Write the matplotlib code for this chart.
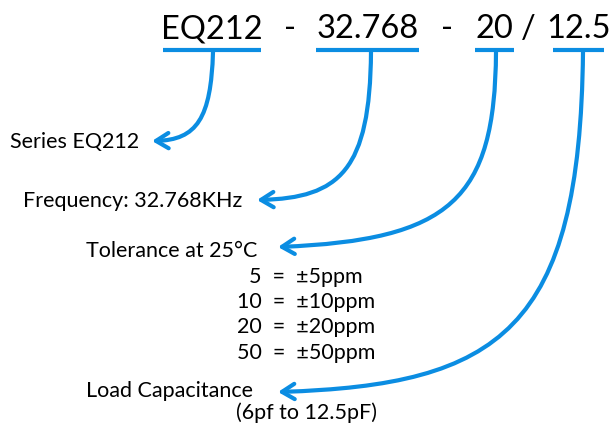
import matplotlib.pyplot as plt
from matplotlib.path import Path
from matplotlib.patches import FancyArrowPatch

plt.rcParams['font.family'] = ['Lato', 'DejaVu Sans']

BLUE = '#0b8de2'

# part number pieces: (text, center x)
code_parts = ['EQ212', '32.768', '20', '12.5']
code_x = [212, 367.5, 494.5, 578.5]
underline_x0 = [163, 316, 475, 553]
underline_x1 = [261, 419, 514, 604]
separators = ['-', '-', '/']
sep_x = [290, 447, 528]

# labels: (text, left x, baseline y)
labels = ['Series EQ212', 'Frequency: 32.768KHz', 'Tolerance at 25°C', 'Load Capacitance']
label_x = [10, 23, 86, 86]
label_y = [148, 207, 257, 397]

sub_lines = ['5  =  ±5ppm', '10  =  ±10ppm', '20  =  ±20ppm', '50  =  ±50ppm', '(6pf to 12.5pF)']
sub_y = [283, 308, 333, 359, 419]
sub_cx = 306

# connector curves, cubic bezier control points
curves = [
    [(213, 52), (211, 118), (197, 140), (152, 141)],
    [(371, 52), (370, 170), (340, 198), (257, 200)],
    [(496, 52), (495, 200), (450, 240), (278, 247)],
    [(583, 52), (580, 330), (500, 385), (278, 392)],
]

fig = plt.figure(figsize=(6.16, 4.25), dpi=100)
ax = fig.add_axes([0, 0, 1, 1])
ax.set_xlim(0, 616)
ax.set_ylim(425, 0)
ax.axis('off')

for t, x in zip(code_parts, code_x):
    ax.text(x, 38, t, fontsize=23.5, ha='center', va='baseline', color='black')
for t, x in zip(separators, sep_x):
    ax.text(x, 38, t, fontsize=23.5, ha='center', va='baseline', color='black')
for a, b in zip(underline_x0, underline_x1):
    ax.plot([a, b], [50, 50], color=BLUE, lw=3, solid_capstyle='butt')

for t, x, y in zip(labels, label_x, label_y):
    ax.text(x, y, t, fontsize=15.5, ha='left', va='baseline', color='black')
for t, y in zip(sub_lines, sub_y):
    ax.text(sub_cx, y, t, fontsize=15.5, ha='center', va='baseline', color='black')

for pts in curves:
    path = Path(pts, [Path.MOVETO, Path.CURVE4, Path.CURVE4, Path.CURVE4])
    arr = FancyArrowPatch(path=path, arrowstyle='->,head_length=0.9,head_width=0.55',
                          mutation_scale=10, color=BLUE, lw=3,
                          shrinkA=0, shrinkB=0, transform=ax.transData)
    ax.add_patch(arr)

fig.savefig('out.png', dpi=100)
